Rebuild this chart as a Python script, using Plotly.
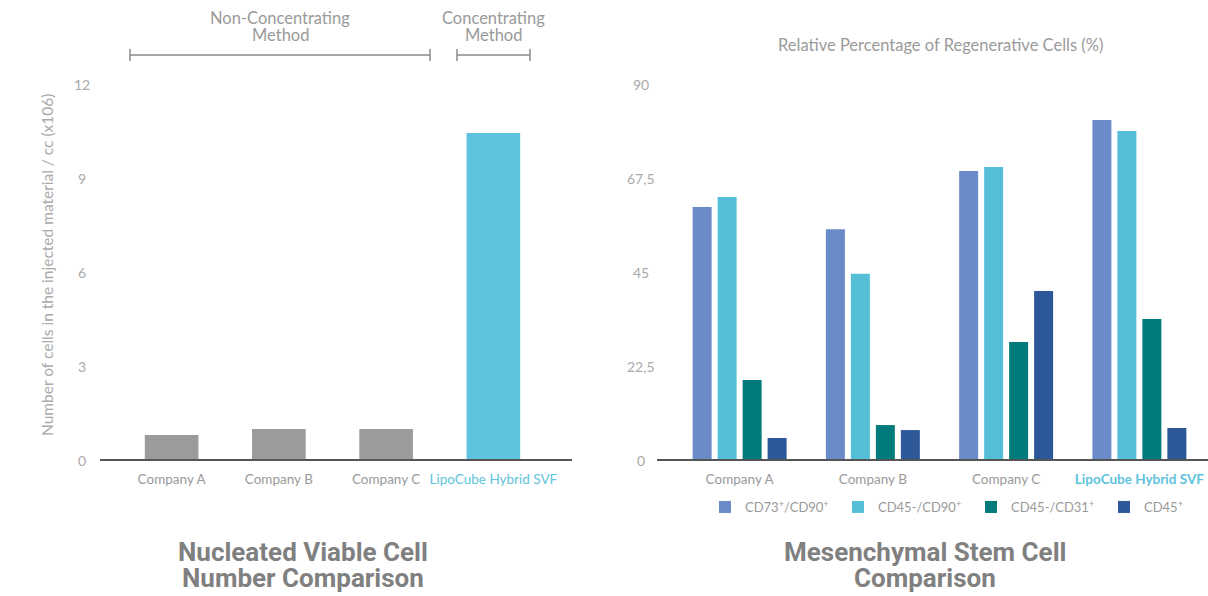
import plotly.graph_objects as go

# ---- data ----
left_categories = ["Company A", "Company B", "Company C", "LipoCube Hybrid SVF"]
left_values = [0.83, 1.02, 1.02, 10.47]
left_colors = ["#9B9B9A", "#9B9B9A", "#9B9B9A", "#5EC3DC"]
left_yticks = [0, 3, 6, 9, 12]
left_yticklabels = ["0", "3", "6", "9", "12"]

right_categories = ["Company A", "Company B", "Company C", "LipoCube Hybrid SVF"]
series_names = ["CD73<sup>+</sup>/CD90<sup>+</sup>", "CD45-/CD90<sup>+</sup>",
                "CD45-/CD31<sup>+</sup>", "CD45<sup>+</sup>"]
series_values = [
    [60.8, 55.5, 69.4, 81.6],
    [63.2, 44.8, 70.4, 79.0],
    [19.4, 8.6, 28.5, 34.0],
    [5.5, 7.4, 40.7, 7.9],
]
series_colors = ["#6A8BC8", "#55BFD7", "#007A7A", "#2C5799"]
right_yticks = [0, 22.5, 45, 67.5, 90]
right_yticklabels = ["0", "22,5", "45", "67,5", "90"]

W, H = 1208, 596
FONT = "Lato"
TITLE_FONT = "Liberation Sans Narrow, Roboto, Lato"
GRAY = "#9a9a9a"


def px(x):
    return x / W


def py(y):
    return 1 - y / H


fig = go.Figure()

fig.add_trace(go.Bar(
    x=left_categories, y=left_values, marker=dict(color=left_colors, line=dict(width=0)),
    width=0.5, xaxis="x", yaxis="y", showlegend=False, hoverinfo="x+y"))

for name, vals, col in zip(series_names, series_values, series_colors):
    fig.add_trace(go.Bar(
        x=right_categories, y=vals, name=name,
        marker=dict(color=col, line=dict(width=0)),
        xaxis="x2", yaxis="y2"))

y_dom = [py(461), py(85)]

left_ticktext = [c if c != "LipoCube Hybrid SVF" else
                 "<span style='color:#5EC3DC'>LipoCube Hybrid SVF</span>" for c in left_categories]
right_ticktext = [c if c != "LipoCube Hybrid SVF" else
                  "<b><span style='color:#5EC3DC'>LipoCube Hybrid SVF</span></b>" for c in right_categories]

fig.update_layout(
    width=W, height=H,
    margin=dict(l=0, r=0, t=0, b=0, autoexpand=False),
    paper_bgcolor="white", plot_bgcolor="white",
    font=dict(family=FONT, color=GRAY, size=12),
    barmode="group", bargap=0.25, bargroupgap=0.24,
    xaxis=dict(domain=[px(118), px(547)], anchor="y", showgrid=False, zeroline=False,
               showline=False, ticks="", tickvals=left_categories, ticktext=left_ticktext,
               tickangle=0, automargin=False,
               tickfont=dict(size=13.5, color=GRAY), ticklabelstandoff=8, fixedrange=True),
    yaxis=dict(domain=y_dom, anchor="x", range=[0, 12], showgrid=False, zeroline=False,
               showline=False, showticklabels=False, ticks="", automargin=False),
    xaxis2=dict(domain=[px(673), px(1206)], anchor="y2", showgrid=False, zeroline=False,
                showline=False, ticks="", tickvals=right_categories, ticktext=right_ticktext,
                tickangle=0, automargin=False,
                tickfont=dict(size=13.5, color=GRAY), ticklabelstandoff=8),
    yaxis2=dict(domain=y_dom, anchor="x2", range=[0, 90], showgrid=False, zeroline=False,
                showline=False, showticklabels=False, ticks="", automargin=False),
    legend=dict(orientation="h", x=px(705), y=py(492), xanchor="left", yanchor="top",
                entrywidth=88, font=dict(size=13, color=GRAY), itemclick=False,
                bgcolor="rgba(0,0,0,0)"),
)


def ann(x, y, text, size, color=GRAY, family=FONT, angle=0):
    return dict(x=px(x), y=py(y), xref="paper", yref="paper", text=text, showarrow=False,
                xanchor="center", yanchor="middle", textangle=angle,
                font=dict(size=size, color=color, family=family))


annotations = []
# y tick labels (centered, as in the reference)
for v, t in zip(left_yticks, left_yticklabels):
    annotations.append(dict(x=px(82), xref="paper", y=v, yref="y", text=t, showarrow=False,
                            xanchor="center", yanchor="middle", font=dict(size=14, color="#aaaaaa")))
for v, t in zip(right_yticks, right_yticklabels):
    annotations.append(dict(x=px(641), xref="paper", y=v, yref="y2", text=t, showarrow=False,
                            xanchor="center", yanchor="middle", font=dict(size=14, color="#aaaaaa")))

annotations += [
    ann(47, 265, "Number of cells in the injected material / cc (x106)", 15.5, "#aaaaaa", angle=-90),
    ann(280, 18, "Non-Concentrating", 16.5),
    ann(280, 35, "Method", 16.5),
    ann(493, 18, "Concentrating", 16.5),
    ann(493, 35, "Method", 16.5),
    ann(940, 45, "Relative Percentage of Regenerative Cells (%)", 16.5),
    ann(303, 552, "<b>Nucleated Viable Cell</b>", 26, "#808080", TITLE_FONT),
    ann(303, 578, "<b>Number Comparison</b>", 26, "#808080", TITLE_FONT),
    ann(925, 552, "<b>Mesenchymal Stem Cell</b>", 26, "#808080", TITLE_FONT),
    ann(925, 578, "<b>Comparison</b>", 26, "#808080", TITLE_FONT),
]
fig.update_layout(annotations=annotations)

shapes = [
    # baselines
    dict(type="line", xref="paper", yref="y", x0=px(100), x1=px(572), y0=0, y1=0,
         line=dict(color="#555555", width=4)),
    dict(type="line", xref="paper", yref="y2", x0=px(657), x1=px(1208), y0=0, y1=0,
         line=dict(color="#555555", width=4)),
]
# brackets
for x0, x1 in [(130, 430), (457, 530)]:
    shapes.append(dict(type="line", xref="paper", yref="paper", x0=px(x0), x1=px(x1),
                       y0=py(55), y1=py(55), line=dict(color="#8a8a8a", width=1.5)))
    for xx in (x0, x1):
        shapes.append(dict(type="line", xref="paper", yref="paper", x0=px(xx), x1=px(xx),
                           y0=py(49), y1=py(61), line=dict(color="#8a8a8a", width=1.5)))
fig.update_layout(shapes=shapes)

fig.write_html("out.html")
